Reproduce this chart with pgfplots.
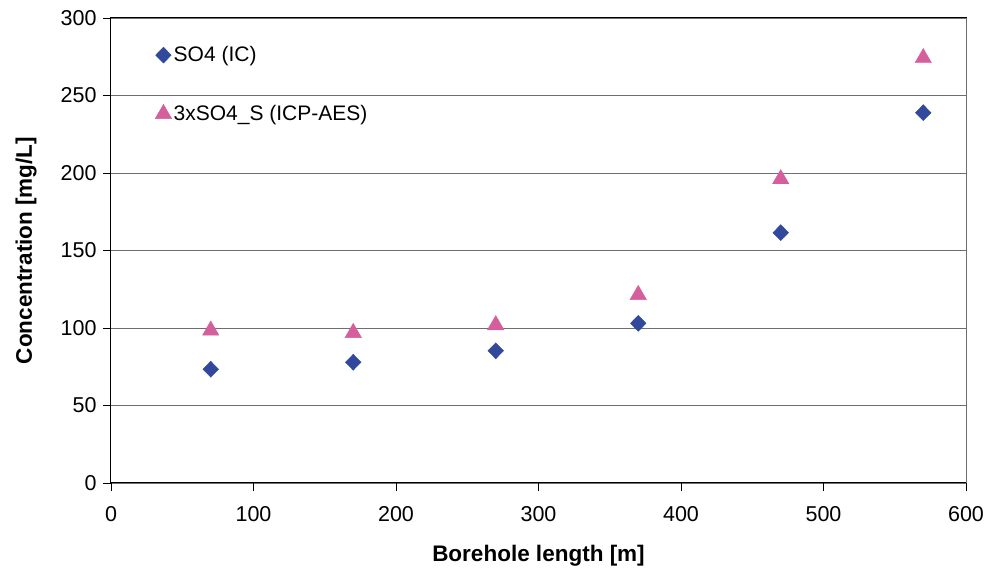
\documentclass[border=0pt]{standalone}
\usepackage{fontspec}
\setmainfont{Liberation Sans}
\usepackage{pgfplots}
\pgfplotsset{compat=1.18}
\definecolor{soblue}{HTML}{31489B}
\definecolor{sopink}{HTML}{D45F9C}
\definecolor{gridgray}{HTML}{6E6E6E}

\begin{document}
\begin{tikzpicture}
\useasboundingbox (-111pt,-89pt) rectangle (876pt,483pt);
\begin{axis}[
  at={(0pt,0pt)}, anchor=south west,
  scale only axis, width=855pt, height=465pt,
  xmin=0, xmax=600, ymin=0, ymax=300,
  xtick={0,100,...,600}, ytick={0,50,...,300},
  ymajorgrids=true,
  major grid style={gridgray, line width=0.9pt},
  axis line style={black, line width=1pt},
  tick style={black, line width=0.9pt},
  tick align=outside, major tick length=8pt,
  xtick pos=bottom, ytick pos=left,
  /pgf/number format/assume math mode=true,
  ticklabel style={font=\fontsize{21.5}{24}\selectfont},
  xticklabel style={yshift=-12pt},
  yticklabel style={xshift=-3pt},
  xlabel={\bfseries Borehole length [m]},
  ylabel={\bfseries Concentration [mg/L]},
  label style={font=\fontsize{22.5}{26}\selectfont},
  xlabel style={yshift=-17pt},
  ylabel style={yshift=17pt},
  legend cell align=left,
  legend style={draw=none, fill=none, font=\fontsize{21}{24}\selectfont,
    at={(axis description cs:0.0515,0.857)}, anchor=west,
    row sep=38pt, inner sep=0pt},
  legend image code/.code={\draw[#1] plot coordinates {(0pt,0pt)};},
  clip=false,
]
\addplot[only marks, mark=diamond*, mark size=8pt, mark options={xscale=1.3, fill=soblue, draw=soblue}]
coordinates {
  (70,73.4)(170,77.9)(270,85.3)(370,103)(470,161.5)(570,238.9)
};
\addplot[only marks, mark=triangle*, mark size=9.5pt, mark options={fill=sopink, draw=sopink}]
coordinates {
  (70,98.4)(170,96.9)(270,101.9)(370,121.4)(470,196.1)(570,274.2)
};
\legend{SO4 (IC),3xSO4\_S (ICP-AES)}
\draw[gridgray, line width=0.9pt] (rel axis cs:1,0) -- (rel axis cs:1,1);
\end{axis}
\end{tikzpicture}
\end{document}
